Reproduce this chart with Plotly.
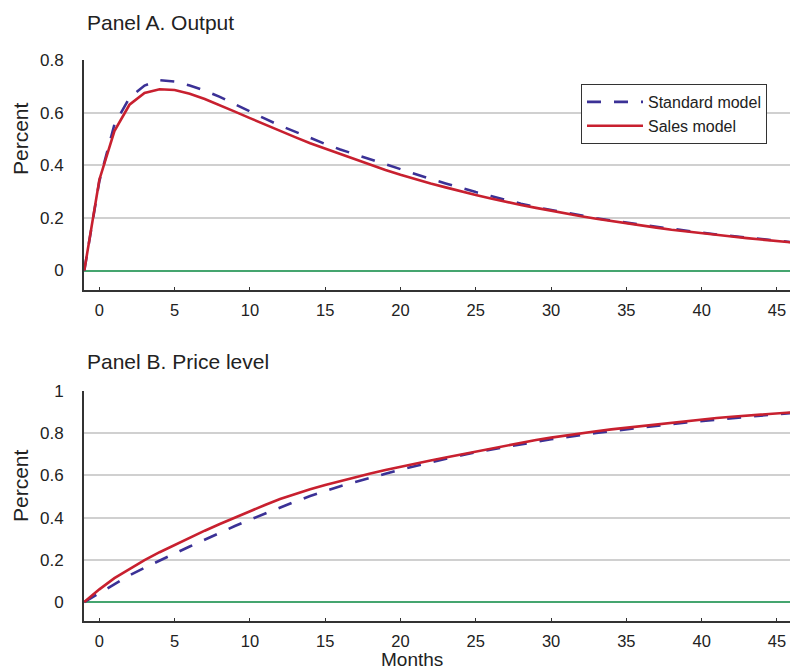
import plotly.graph_objects as go

# ---------------- data ----------------
months = list(range(-1, 48))

output_standard = [0.0, 0.34, 0.555, 0.656, 0.703, 0.723, 0.718, 0.703, 0.684, 0.660, 0.632,
                   0.603, 0.577, 0.551, 0.527, 0.503, 0.481, 0.460, 0.441, 0.422, 0.404,
                   0.385, 0.366, 0.348, 0.331, 0.314, 0.298, 0.283, 0.268, 0.254, 0.241,
                   0.230, 0.219, 0.209, 0.199, 0.190, 0.181, 0.174, 0.166, 0.158, 0.151,
                   0.144, 0.137, 0.131, 0.125, 0.119, 0.113, 0.107, 0.102]

output_sales = [0.0, 0.345, 0.530, 0.630, 0.675, 0.689, 0.686, 0.672, 0.652, 0.629, 0.604,
                0.579, 0.554, 0.530, 0.507, 0.484, 0.463, 0.442, 0.422, 0.400, 0.382,
                0.364, 0.347, 0.331, 0.316, 0.301, 0.287, 0.274, 0.261, 0.249, 0.238,
                0.227, 0.216, 0.206, 0.197, 0.188, 0.179, 0.171, 0.163, 0.155, 0.148,
                0.141, 0.135, 0.129, 0.123, 0.117, 0.112, 0.106, 0.101]

price_standard = [0.0, 0.042, 0.086, 0.126, 0.162, 0.197, 0.230, 0.263, 0.296, 0.328, 0.360,
                  0.390, 0.419, 0.448, 0.476, 0.502, 0.527, 0.549, 0.569, 0.590, 0.608,
                  0.628, 0.645, 0.663, 0.678, 0.695, 0.710, 0.723, 0.735, 0.748, 0.759,
                  0.771, 0.782, 0.791, 0.801, 0.810, 0.819, 0.827, 0.835, 0.843, 0.851,
                  0.858, 0.865, 0.871, 0.878, 0.884, 0.890, 0.896, 0.902]

price_sales = [0.0, 0.060, 0.113, 0.158, 0.199, 0.236, 0.271, 0.305, 0.338, 0.370, 0.401,
               0.431, 0.460, 0.488, 0.512, 0.534, 0.555, 0.574, 0.592, 0.609, 0.626,
               0.642, 0.657, 0.671, 0.685, 0.699, 0.714, 0.729, 0.743, 0.756, 0.768,
               0.779, 0.790, 0.800, 0.809, 0.818, 0.826, 0.834, 0.842, 0.850, 0.858,
               0.866, 0.872, 0.878, 0.884, 0.889, 0.894, 0.899, 0.904]

x_ticks = [0, 5, 10, 15, 20, 25, 30, 35, 40, 45]
y_ticks_a = [0, 0.2, 0.4, 0.6, 0.8]
y_labels_a = ["0", "0.2", "0.4", "0.6", "0.8"]
y_ticks_b = [0, 0.2, 0.4, 0.6, 0.8, 1]
y_labels_b = ["0", "0.2", "0.4", "0.6", "0.8", "1"]

series_names = ["Standard model", "Sales model"]
panel_titles = ["Panel A. Output", "Panel B. Price level"]

# ---------------- layout geometry ----------------
# The page body has an 8px margin, so the figure is drawn 8px smaller and
# all reference pixel positions are shifted by OFF.
OFF = 8
W, H = 798 - OFF, 671 - OFF
PLOT_L, PLOT_R, PLOT_T, PLOT_B = 84 - OFF, 798 - OFF, 60 - OFF, 621 - OFF
ML, MR, MT, MB = PLOT_L, W - PLOT_R, PLOT_T, H - PLOT_B
PW, PH = W - ML - MR, H - MT - MB

def px(xp):  # reference pixel x -> paper
    return (xp - OFF - ML) / PW

def py(yp):  # reference pixel y -> paper
    return (H - MB - (yp - OFF)) / PH

FONT = "Liberation Sans, Arial, Helvetica, sans-serif"
TXT = "#222222"
BLUE = "#3b3196"
RED = "#c8202f"
GREEN = "#45a56f"
GRID = "#d0d0d0"
AXIS = "#333333"

fig = go.Figure()

dash = "14px,13px"
fig.add_trace(go.Scatter(x=months, y=output_standard, mode="lines", name=series_names[0],
                         line=dict(color=BLUE, width=2.6, dash=dash),
                         xaxis="x", yaxis="y", showlegend=True))
fig.add_trace(go.Scatter(x=months, y=output_sales, mode="lines", name=series_names[1],
                         line=dict(color=RED, width=2.6),
                         xaxis="x", yaxis="y", showlegend=True))
fig.add_trace(go.Scatter(x=months, y=price_standard, mode="lines", name=series_names[0],
                         line=dict(color=BLUE, width=2.6, dash=dash),
                         xaxis="x2", yaxis="y2", showlegend=False))
fig.add_trace(go.Scatter(x=months, y=price_sales, mode="lines", name=series_names[1],
                         line=dict(color=RED, width=2.6),
                         xaxis="x2", yaxis="y2", showlegend=False))

xcommon = dict(range=[-1.02, 46.4], tickvals=x_ticks, showgrid=False, zeroline=False,
               showline=True, linecolor=AXIS, linewidth=1.5, ticks="inside", ticklen=3,
               tickcolor=AXIS, tickwidth=1, ticklabelstandoff=4,
               tickfont=dict(family=FONT, size=16.5, color=TXT), fixedrange=True)
ycommon = dict(showgrid=True, gridcolor=GRID, gridwidth=1.5, zeroline=True,
               zerolinecolor=GREEN, zerolinewidth=2, showline=True, linecolor=AXIS,
               linewidth=2, ticks="", ticklabelstandoff=15,
               tickfont=dict(family=FONT, size=17, color=TXT), fixedrange=True)

top_lo, top_hi = py(290), py(60)
bot_lo, bot_hi = py(621), py(391)

fig.update_layout(
    width=W, height=H,
    margin=dict(l=ML, r=MR, t=MT, b=MB),
    paper_bgcolor="white", plot_bgcolor="white",
    font=dict(family=FONT, color=TXT),
    xaxis=dict(domain=[0, 1], anchor="y", **xcommon),
    yaxis=dict(domain=[top_lo, top_hi], anchor="x", range=[-0.074, 0.8],
               tickvals=y_ticks_a, ticktext=y_labels_a, **ycommon),
    xaxis2=dict(domain=[0, 1], anchor="y2", **xcommon),
    yaxis2=dict(domain=[bot_lo, bot_hi], anchor="x2", range=[-0.09, 1.0],
                tickvals=y_ticks_b, ticktext=y_labels_b, **ycommon),
    legend=dict(x=px(581), y=py(84), xanchor="left", yanchor="top",
                bordercolor="#333333", borderwidth=1, bgcolor="white",
                font=dict(family=FONT, size=16, color=TXT),
                tracegroupgap=0, itemwidth=56),
    showlegend=True,
)

annos = [
    dict(text=panel_titles[0], x=px(85), y=py(22), xanchor="left", yanchor="middle", size=21),
    dict(text=panel_titles[1], x=px(85), y=py(361), xanchor="left", yanchor="middle", size=21),
    dict(text="Percent", x=px(20), y=py(139), xanchor="center", yanchor="middle", size=21, angle=-90),
    dict(text="Percent", x=px(20), y=py(486), xanchor="center", yanchor="middle", size=21, angle=-90),
    dict(text="Months", x=px(412), y=py(659), xanchor="center", yanchor="middle", size=19),
]
for a in annos:
    fig.add_annotation(text=a["text"], x=a["x"], y=a["y"], xref="paper", yref="paper",
                       xanchor=a["xanchor"], yanchor=a["yanchor"], showarrow=False,
                       textangle=a.get("angle", 0),
                       font=dict(family=FONT, size=a["size"], color=TXT))

fig.write_html("out.html")
